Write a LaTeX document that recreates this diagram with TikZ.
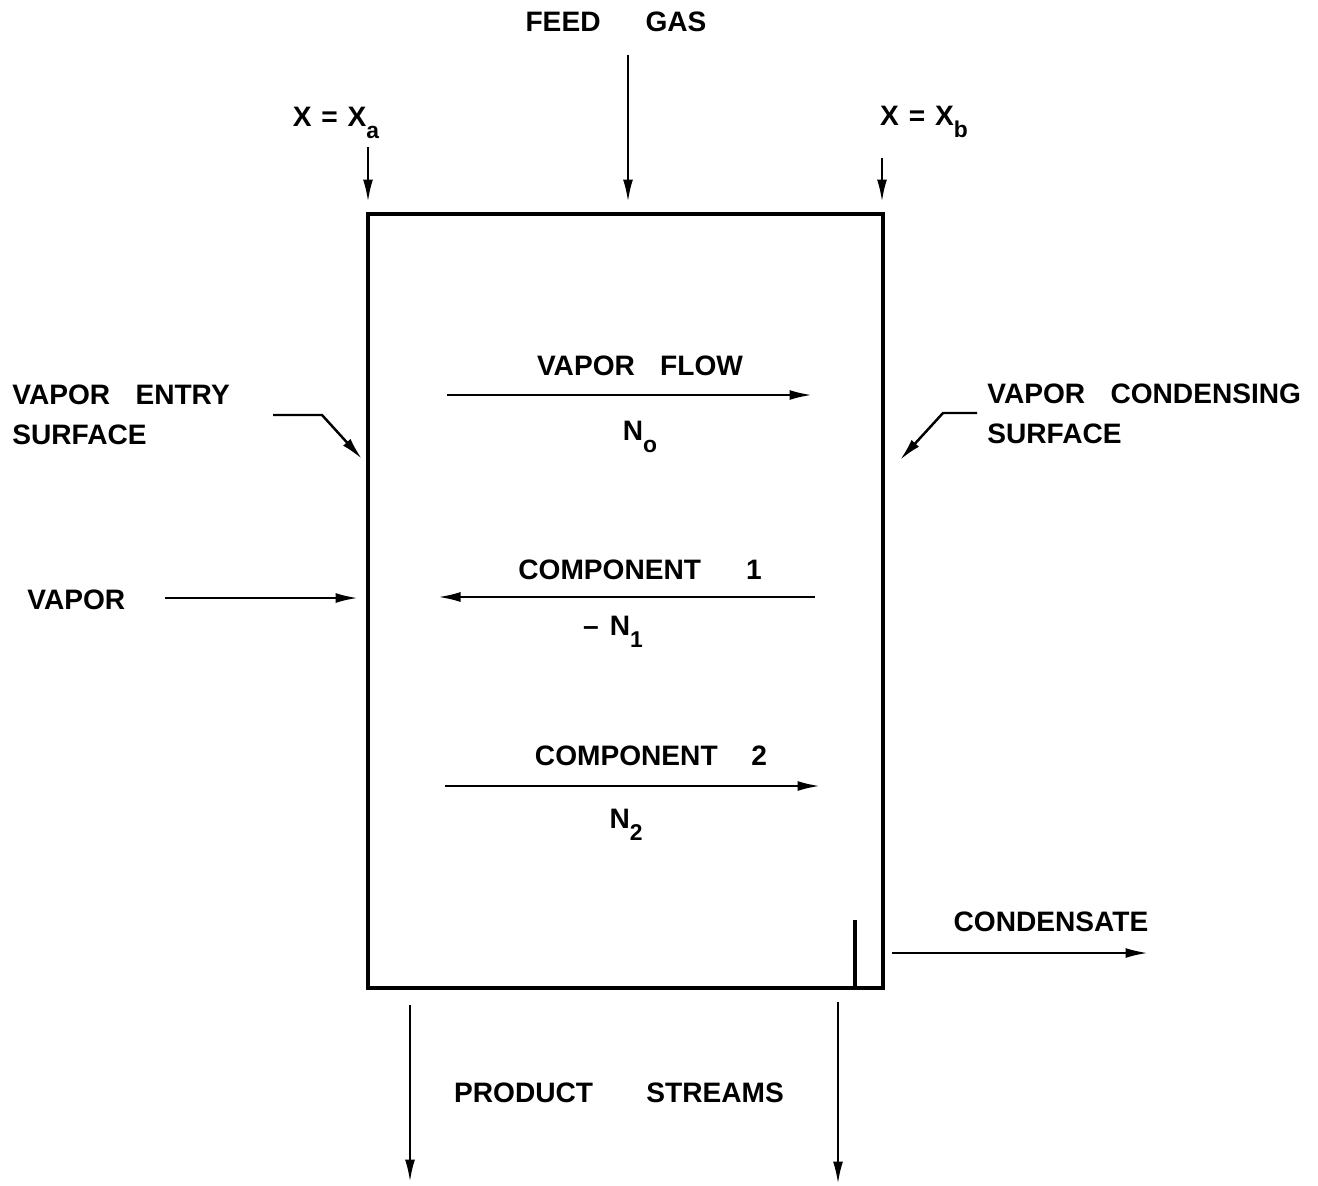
\documentclass[tikz,border=0pt]{standalone}
\usepackage{fontspec}
\setmainfont{Liberation Sans}
\usetikzlibrary{arrows.meta}
\newcommand{\lowsub}[1]{\raisebox{-0.8ex}{\fontsize{13}{13}\selectfont #1}}

\begin{document}
\begin{tikzpicture}[
    x=0.02cm, y=-0.02cm,
    lbl/.style={font=\fontsize{16}{23}\selectfont\bfseries, inner sep=0pt, align=left},
    wall/.style={line width=2.7pt},
    flow/.style={-{Latex[length=4.5mm, width=2mm]}, line width=1.4pt},
]
\useasboundingbox (0,0) rectangle (1318,1186);

% Cell walls and weir
\coordinate (nw) at (368,214);
\coordinate (se) at (883,988);
\draw[wall] (nw) rectangle (se);
\coordinate (weirtop) at (855,920);
\coordinate (weirfoot) at (855,988);
\draw[wall, line width=2pt] (weirtop) -- (weirfoot);

% Top labels and arrows
\node[lbl] (feed) at (616,22) {FEED\hspace{1.6em}GAS};
\coordinate (feedin) at (628,55);
\coordinate (feedout) at (628,202);
\draw[flow] (feedin) -- (feedout);

\node[lbl] (xa) at (336,123) {X\hspace{0.35em}=\hspace{0.35em}X\lowsub{a}};
\coordinate (xain) at (368,147);
\coordinate (xaout) at (368,202);
\draw[flow] (xain) -- (xaout);

\node[lbl] (xb) at (924,122) {X\hspace{0.35em}=\hspace{0.35em}X\lowsub{b}};
\coordinate (xbin) at (882,158);
\coordinate (xbout) at (882,202);
\draw[flow] (xbin) -- (xbout);

% Side labels
\node[lbl, anchor=west] (entry) at (12,415) {VAPOR\hspace{0.9em}ENTRY\\SURFACE};
\coordinate (entrya) at (273,415);
\coordinate (entryb) at (322,415);
\coordinate (entryc) at (362,459);
\draw[flow] (entrya) -- (entryb) -- (entryc);

\node[lbl, anchor=west] (cond) at (987,414) {VAPOR\hspace{0.9em}CONDENSING\\SURFACE};
\coordinate (conda) at (977,413);
\coordinate (condb) at (943,413);
\coordinate (condc) at (900,460);
\draw[flow] (conda) -- (condb) -- (condc);

\node[lbl, anchor=west] (vapor) at (27,600) {VAPOR};
\coordinate (vapin) at (165,598);
\coordinate (vapout) at (358,598);
\draw[flow] (vapin) -- (vapout);

% Fluxes inside the cell
\node[lbl] (vflow) at (640,366) {VAPOR\hspace{0.9em}FLOW};
\coordinate (vfa) at (447,395);
\coordinate (vfb) at (812,395);
\draw[flow] (vfa) -- (vfb);
\node[lbl] (n0) at (640,437) {N\lowsub{o}};

\node[lbl] (comp1) at (640,570) {COMPONENT\hspace{1.6em}1};
\coordinate (c1a) at (815,597);
\coordinate (c1b) at (438,597);
\draw[flow] (c1a) -- (c1b);
\node[lbl] (n1) at (613,632) {\textendash\hspace{0.4em}N\lowsub{1}};

\node[lbl] (comp2) at (651,756) {COMPONENT\hspace{1.2em}2};
\coordinate (c2a) at (445,786);
\coordinate (c2b) at (820,786);
\draw[flow] (c2a) -- (c2b);
\node[lbl] (n2) at (626,825) {N\lowsub{2}};

% Outlets
\node[lbl] (cdst) at (1051,922) {CONDENSATE};
\coordinate (cdsta) at (892,953);
\coordinate (cdstb) at (1148,953);
\draw[flow] (cdsta) -- (cdstb);

\node[lbl] (prod) at (619,1093) {PRODUCT\hspace{1.9em}STREAMS};
\coordinate (pla) at (410,1005);
\coordinate (plb) at (410,1182);
\draw[flow] (pla) -- (plb);
\coordinate (pra) at (838,1002);
\coordinate (prb) at (838,1184);
\draw[flow] (pra) -- (prb);

\end{tikzpicture}
\end{document}
